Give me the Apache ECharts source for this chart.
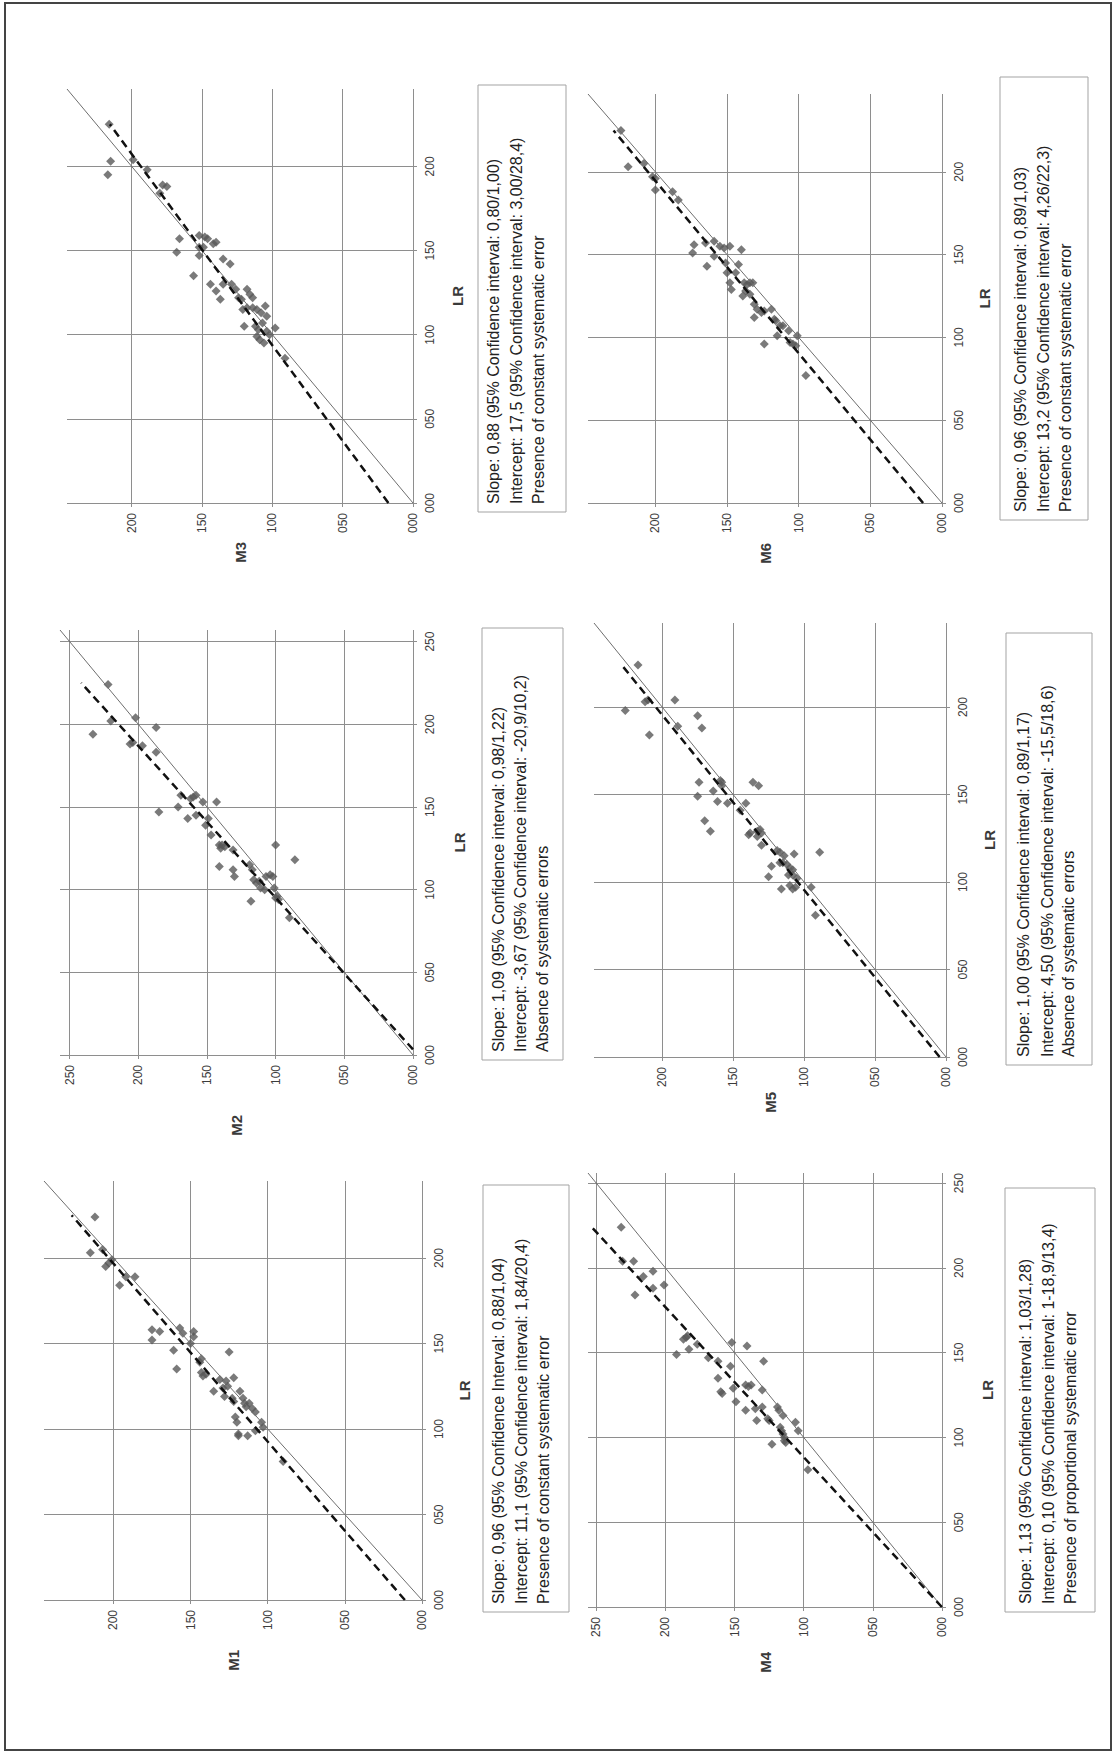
<!DOCTYPE html>
<html>
<head>
<meta charset="utf-8">
<script src="https://cdn.jsdelivr.net/npm/echarts@6/dist/echarts.min.js"></script>
<style>
  html, body { margin: 0; padding: 0; background: #fff; }
  #chart { width: 1115px; height: 1753px; }
</style>
</head>
<body>
<div id="chart"></div>
<script>
// Method comparison plots: six methods (M1–M6) against the reference LR,
// laid out sideways (LR runs upward, the method value runs right-to-left).

const panelNames = ['M1', 'M2', 'M3', 'M4', 'M5', 'M6'];
const axisMax = [245, 257, 246, 256, 248, 247];
const tickValues = [0, 50, 100, 150, 200, 250];

// Passing-Bablok style fit for each method: M = intercept + slope * LR
const slopes = [0.96, 1.09, 0.88, 1.13, 1.00, 0.96];
const intercepts = [11.1, -3.67, 17.5, 0.10, 4.50, 13.2];
const fitEndLR = 225;

// Paired measurements [method value, LR value]
const m1Points = [
  [212,224],[215,203],[207,205],[205,195],[203,197],[201,199],[192,189],[186,189],[196,184],
  [175,158],[170,157],[175,152],[157,159],[155,156],[148,157],[148,154],[150,150],[161,146],[159,135],
  [143,141],[144,139],[125,145],[143,133],[142,131],[140,132],[135,122],[131,129],[127,128],[122,130],
  [128,119],[123,118],[122,116],[118,122],[121,107],[120,104],[119,97],[119,96],[113,96],
  [112,115],[114,113],[110,112],[108,110],[108,99],[103,101],[104,104],[90,81],[116,118],[115,115],[126,125],[129,124]
];
const m2Points = [
  [222,224],[220,202],[202,204],[233,194],[187,198],[206,188],[204,189],[197,187],[187,183],
  [185,147],[171,150],[169,157],[162,155],[160,156],[158,157],[153,153],[143,153],[164,143],[158,145],
  [151,139],[149,143],[147,133],[141,127],[139,127],[137,126],[140,125],[131,124],[141,114],
  [131,112],[130,108],[119,115],[116,106],[114,104],[118,93],[107,108],[104,109],[102,108],
  [111,101],[108,100],[100,127],[86,118],[101,101],[99,96],[98,94],[100,95],[90,83],[117,112],[112,105]
];
const m3Points = [
  [216,225],[215,203],[217,195],[199,204],[189,198],[178,189],[175,188],[180,184],
  [166,157],[168,149],[152,159],[148,158],[146,157],[140,155],[142,154],[149,152],[152,152],[152,147],[156,135],
  [135,145],[130,142],[144,130],[135,130],[129,130],[140,126],[137,121],[126,127],[118,127],
  [124,122],[122,121],[116,124],[114,122],[121,115],[118,116],[114,116],[111,115],[108,113],[105,117],
  [120,105],[112,105],[110,103],[104,111],[107,107],[98,104],[104,102],[102,100],[111,99],[109,97],[91,86],[106,95]
];
const m4Points = [
  [232,224],[231,204],[223,204],[222,184],[216,195],[209,198],[201,190],[209,188],
  [192,149],[187,158],[185,159],[184,160],[183,152],[177,155],[169,147],[162,145],[162,135],[160,127],[159,126],
  [153,142],[151,129],[149,121],[152,156],[141,154],[142,131],[140,130],[138,131],[142,116],[135,117],
  [130,118],[130,128],[129,145],[134,110],[126,111],[125,110],[119,118],[118,116],[115,113],[117,106],[116,104],
  [115,102],[114,100],[114,98],[113,97],[106,109],[104,104],[123,96],[97,81]
];
const m5Points = [
  [217,224],[226,198],[212,203],[210,204],[209,184],[191,204],[189,189],[175,195],[172,188],
  [174,157],[175,149],[164,152],[170,135],[166,129],[159,158],[158,157],[158,155],[161,146],[154,145],[141,145],[145,141],
  [136,157],[132,155],[139,127],[138,128],[133,129],[131,130],[130,128],[133,126],[130,121],
  [119,118],[117,117],[114,115],[107,116],[89,117],[123,109],[117,111],[115,111],[112,110],[110,108],[108,107],
  [125,103],[111,104],[108,104],[105,102],[116,96],[110,98],[108,96],[106,97],[95,97],[92,81]
];
const m6Points = [
  [224,225],[219,203],[208,205],[202,197],[200,196],[200,189],[188,188],[184,183],
  [174,151],[173,156],[165,157],[159,158],[155,155],[152,154],[148,155],[140,153],[164,143],[159,149],[151,145],[142,144],
  [150,139],[144,139],[148,133],[147,129],[138,133],[136,132],[134,133],[132,133],[137,128],[134,126],[139,125],
  [131,120],[129,117],[126,115],[131,112],[124,116],[119,117],[117,111],[116,110],[113,107],[111,107],[107,104],[101,101],
  [115,101],[124,96],[106,97],[104,96],[102,95],[95,77]
];
const panelPoints = [m1Points, m2Points, m3Points, m4Points, m5Points, m6Points];

// Statistics box under each plot
const boxLines = [
  ['Slope: 0,96 (95% Confidence Interval: 0,88/1,04)',
   'Intercept: 11,1 (95% Confidence interval: 1,84/20,4)',
   'Presence of constant systematic error'],
  ['Slope: 1,09 (95% Confidence interval: 0,98/1,22)',
   'Intercept: -3,67 (95% Confidence interval: -20,9/10,2)',
   'Absence of systematic errors'],
  ['Slope: 0,88 (95% Confidence interval: 0,80/1,00)',
   'Intercept: 17,5 (95% Confidence interval: 3,00/28,4)',
   'Presence of constant systematic error'],
  ['Slope: 1,13 (95% Confidence interval: 1,03/1,28)',
   'Intercept: 0,10 (95% Confidence interval: 1-18,9/13,4)',
   'Presence of proportional systematic error'],
  ['Slope: 1,00 (95% Confidence interval: 0,89/1,17)',
   'Intercept: 4,50 (95% Confidence interval: -15,5/18,6)',
   'Absence of systematic errors'],
  ['Slope: 0,96 (95% Confidence interval: 0,89/1,03)',
   'Intercept: 13,2 (95% Confidence interval: 4,26/22,3)',
   'Presence of constant systematic error']
];

// ---- layout (pixels) ----
const gridBoxes = [
  { left: 44,  top: 1181, width: 378, height: 419 },
  { left: 60,  top: 630,  width: 353, height: 425 },
  { left: 67,  top: 89,   width: 346, height: 414 },
  { left: 588, top: 1173, width: 354, height: 434 },
  { left: 594, top: 623,  width: 352, height: 434 },
  { left: 588, top: 94,   width: 354, height: 409 }
];
const methodNameGap = [50, 60, 39, 45, 28, 40];
const lrNameGap = [35, 39, 37, 38, 36, 35];
const statBoxes = [
  { x: 483,  y: 1185, w: 86, h: 427, offs: [15, 38, 60] },
  { x: 482,  y: 628,  w: 81, h: 432, offs: [16, 38, 60] },
  { x: 478,  y: 85,   w: 88, h: 427, offs: [15, 38, 60] },
  { x: 1005, y: 1188, w: 90, h: 424, offs: [20, 43, 65] },
  { x: 1006, y: 633,  w: 86, h: 432, offs: [17, 41, 62] },
  { x: 1000, y: 77,   w: 88, h: 443, offs: [20, 43, 65] }
];

const FONT = '"Liberation Sans", Arial, sans-serif';
const GRID_GRAY = '#8e8e8e';
const pad3 = v => String(Math.round(v)).padStart(3, '0');

const grid = [], xAxis = [], yAxis = [], series = [], graphic = [];

panelNames.forEach((name, i) => {
  const max = axisMax[i];
  const ticks = tickValues.filter(t => t <= max);
  grid.push(Object.assign({ containLabel: false, outerBoundsMode: 'none' }, gridBoxes[i]));

  const common = {
    gridIndex: i, type: 'value', min: 0, max: max, interval: 50,
    axisLine: { show: false },
    axisTick: { show: true, length: 4, inside: false, customValues: ticks,
                lineStyle: { color: GRID_GRAY, width: 1 } },
    axisLabel: { rotate: 90, fontSize: 12, color: '#3c3c3c', fontFamily: FONT,
                 formatter: pad3, customValues: ticks },
    splitLine: { show: true, lineStyle: { color: GRID_GRAY, width: 1 } },
    nameLocation: 'middle', nameRotate: 90,
    nameTextStyle: { fontSize: 15, fontWeight: 'bold', color: '#3a3a3a', fontFamily: FONT }
  };
  // method value: horizontal, growing to the left
  xAxis.push(Object.assign({}, common, {
    position: 'bottom', inverse: true, name: name, nameGap: methodNameGap[i],
    axisLabel: Object.assign({}, common.axisLabel, { margin: 10 })
  }));
  // reference LR: vertical, on the right-hand side
  yAxis.push(Object.assign({}, common, {
    position: 'right', name: 'LR', nameGap: lrNameGap[i],
    axisLabel: Object.assign({}, common.axisLabel, { margin: 11 })
  }));

  series.push({
    type: 'scatter', xAxisIndex: i, yAxisIndex: i,
    data: panelPoints[i], symbol: 'diamond', symbolSize: 9,
    itemStyle: { color: '#595959' }, silent: true, z: 2
  });
  // line of identity
  series.push({
    type: 'line', xAxisIndex: i, yAxisIndex: i,
    data: [[0, 0], [max, max]], symbol: 'none', silent: true, z: 3,
    lineStyle: { color: '#6e6e6e', width: 1 }
  });
  // regression line from the stated slope and intercept
  const lrStart = Math.max(0, -intercepts[i] / slopes[i]);
  series.push({
    type: 'line', xAxisIndex: i, yAxisIndex: i,
    data: [[intercepts[i] + slopes[i] * lrStart, lrStart],
           [intercepts[i] + slopes[i] * fitEndLR, fitEndLR]],
    symbol: 'none', silent: true, z: 4,
    lineStyle: { color: '#111', width: 2.5, type: [8, 5] }
  });

  const b = statBoxes[i];
  graphic.push({
    type: 'rect', shape: { x: b.x, y: b.y, width: b.w, height: b.h },
    style: { fill: '#fff', stroke: '#a3a3a3', lineWidth: 1 }, z: 10
  });
  boxLines[i].forEach((line, k) => {
    graphic.push({
      type: 'text', x: b.x + b.offs[k], y: b.y + b.h - 8, rotation: Math.PI / 2, z: 11,
      style: { text: line, font: '16px ' + FONT, fill: '#222',
               align: 'left', verticalAlign: 'middle',
               textAlign: 'left', textVerticalAlign: 'middle' }
    });
  });
});

// outer frame of the figure
graphic.push({
  type: 'rect', shape: { x: 5, y: 3, width: 1106, height: 1747 },
  style: { fill: 'none', stroke: '#444', lineWidth: 2 }, z: 12
});

const chart = echarts.init(document.getElementById('chart'), null, { renderer: 'svg' });
chart.setOption({
  animation: false,
  backgroundColor: '#fff',
  textStyle: { fontFamily: FONT },
  grid, xAxis, yAxis, series, graphic
});
</script>
</body>
</html>
